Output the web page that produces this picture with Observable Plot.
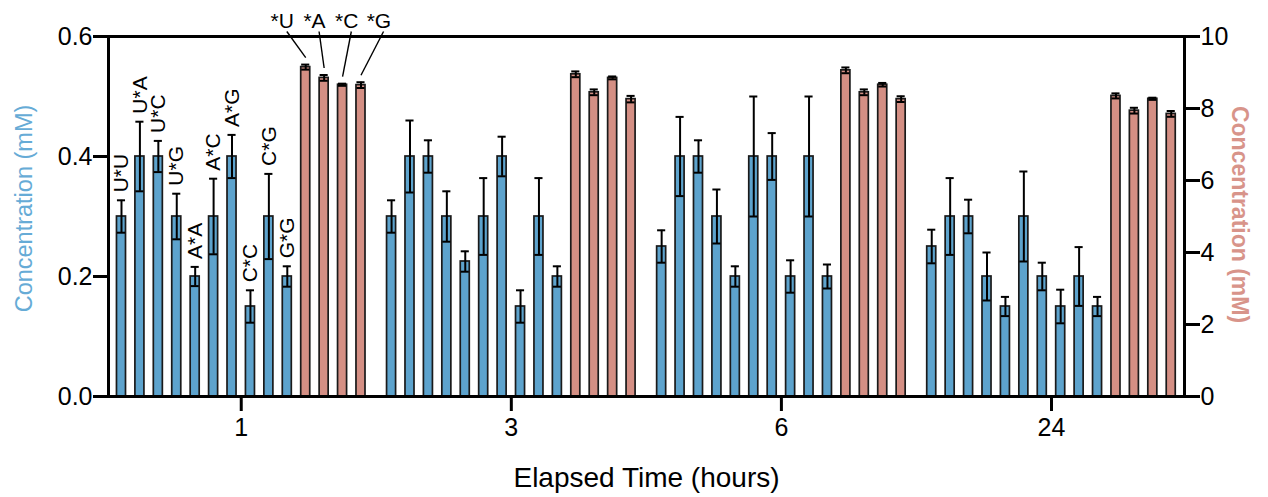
<!DOCTYPE html>
<html>
<head>
<meta charset="utf-8">
<script src="https://cdn.jsdelivr.net/npm/d3@7"></script>
<script src="https://cdn.jsdelivr.net/npm/@observablehq/plot@0.6"></script>
<style>
  body { margin: 0; background: #fff; }
  #chart svg { display: block; }
</style>
</head>
<body>
<div id="chart"></div>
<script>
// ---- data ----
const groups = ["1", "3", "6", "24"];
const blueLabels = ["U*U", "U*A", "U*C", "U*G", "A*A", "A*C", "A*G", "C*C", "C*G", "G*G"];
const redLabels = ["*U", "*A", "*C", "*G"];

// left axis (mM)
const blueMean = [
  [0.30, 0.40, 0.40, 0.30, 0.20, 0.30, 0.40, 0.15, 0.30, 0.20],
  [0.30, 0.40, 0.40, 0.30, 0.225, 0.30, 0.40, 0.15, 0.30, 0.20],
  [0.25, 0.40, 0.40, 0.30, 0.20, 0.40, 0.40, 0.20, 0.40, 0.20],
  [0.25, 0.30, 0.30, 0.20, 0.15, 0.30, 0.20, 0.15, 0.20, 0.15]
];
const blueErr = [
  [0.027, 0.058, 0.026, 0.038, 0.016, 0.063, 0.036, 0.027, 0.071, 0.017],
  [0.027, 0.060, 0.027, 0.042, 0.017, 0.064, 0.033, 0.027, 0.064, 0.017],
  [0.027, 0.066, 0.027, 0.045, 0.017, 0.100, 0.039, 0.027, 0.100, 0.020],
  [0.028, 0.064, 0.028, 0.040, 0.016, 0.075, 0.023, 0.028, 0.049, 0.016]
];
// right axis (mM)
const redMean = [
  [9.15, 8.85, 8.66, 8.65],
  [8.95, 8.45, 8.85, 8.26],
  [9.06, 8.45, 8.66, 8.26],
  [8.35, 7.94, 8.27, 7.85]
];
const redErr = [
  [0.07, 0.08, 0.03, 0.08],
  [0.08, 0.08, 0.04, 0.09],
  [0.08, 0.08, 0.05, 0.08],
  [0.07, 0.08, 0.03, 0.08]
];

const leftTicks = [0, 0.2, 0.4, 0.6];
const rightTicks = [0, 2, 4, 6, 8, 10];
const xTitle = "Elapsed Time (hours)";
const leftTitle = "Concentration (mM)";
const rightTitle = "Concentration (mM)";

// ---- layout constants ----
const RATIO = 0.6 / 10;      // right-axis units -> left-axis units
const GROUP_STEP = 14.66;    // in bar steps
const HALF = 0.245;          // half bar width (bar steps)
const CAP = 0.22;            // half cap width
const PX = 0.6 / 360;        // one pixel in y units
const BLUE = "#5da3cd";
const RED = "#d48f84";
const FONT = "'Liberation Sans', Arial, Helvetica, sans-serif";

const bars = [];
groups.forEach((g, gi) => {
  blueLabels.forEach((lab, i) => bars.push({
    group: g, label: lab, kind: "blue", pos: gi * GROUP_STEP + i,
    y: blueMean[gi][i], e: blueErr[gi][i]
  }));
  redLabels.forEach((lab, j) => bars.push({
    group: g, label: lab, kind: "red", pos: gi * GROUP_STEP + blueLabels.length + j,
    y: redMean[gi][j] * RATIO, e: redErr[gi][j] * RATIO
  }));
});

const firstBlue = bars.filter(d => d.group === groups[0] && d.kind === "blue");
const firstRed = bars.filter(d => d.group === groups[0] && d.kind === "red");
const redCenter = d3.mean(firstRed, d => d.pos) - 0.15;
const topLab = firstRed.map((b, k) => ({label: b.label, tx: redCenter + (k - 1.5) * 1.75, bar: b}));

const nPer = blueLabels.length + redLabels.length;
const groupCenters = groups.map((g, gi) => gi * GROUP_STEP + (nPer - 1) / 2);

const chart = Plot.plot({
  width: 1268,
  height: 497,
  marginLeft: 108,
  marginRight: 84,
  marginTop: 36,
  marginBottom: 101,
  style: {fontFamily: FONT, fontSize: "25px", color: "#000", background: "#fff"},
  x: {domain: [-0.705, 57.70]},
  y: {domain: [0, 0.6]},
  marks: [
    Plot.rect(bars.filter(d => d.kind === "blue"), {
      x1: d => d.pos - HALF, x2: d => d.pos + HALF, y1: 0, y2: "y",
      fill: BLUE, stroke: "#1a1a1a", strokeWidth: 1.7
    }),
    Plot.rect(bars.filter(d => d.kind === "red"), {
      x1: d => d.pos - HALF, x2: d => d.pos + HALF, y1: 0, y2: "y",
      fill: RED, stroke: "#1a1a1a", strokeWidth: 1.7
    }),
    Plot.ruleX(bars, {x: "pos", y1: d => d.y - d.e, y2: d => d.y + d.e, stroke: "#000", strokeWidth: 2}),
    Plot.ruleY(bars, {y: d => d.y + d.e, x1: d => d.pos - CAP, x2: d => d.pos + CAP, stroke: "#000", strokeWidth: 2}),
    Plot.ruleY(bars, {y: d => d.y - d.e, x1: d => d.pos - CAP, x2: d => d.pos + CAP, stroke: "#000", strokeWidth: 2}),
    Plot.text(firstBlue, {
      x: "pos", y: d => d.y + d.e, text: "label", rotate: -90,
      textAnchor: "start", lineAnchor: "middle", dy: -8, fontSize: 21, fill: "#000"
    }),
    Plot.text(topLab, {
      x: "tx", y: 0.6, text: "label", dy: -9, lineAnchor: "bottom", fontSize: 21, fill: "#000"
    }),
    Plot.link(topLab, {
      x1: d => d.tx + 0.25, y1: 0.6 + 5 * PX,
      x2: d => d.bar.pos, y2: d => d.bar.y + d.bar.e + 7 * PX,
      stroke: "#000", strokeWidth: 1.4
    }),
    Plot.frame({stroke: "#000", strokeWidth: 3}),
    Plot.axisY({
      anchor: "left", ticks: leftTicks, tickFormat: d3.format(".1f"),
      tickSize: 15, tickPadding: 1, strokeWidth: 3, fontSize: 25, label: null
    }),
    Plot.axisY({
      anchor: "right", ticks: rightTicks.map(v => v * RATIO),
      tickFormat: d => String(Math.round(d / RATIO)),
      tickSize: 15, tickPadding: 1, strokeWidth: 3, fontSize: 25, label: null
    }),
    Plot.axisX({
      ticks: groupCenters,
      tickFormat: d => groups[Math.round((d - (nPer - 1) / 2) / GROUP_STEP)],
      tickSize: 15, tickPadding: 7, strokeWidth: 3, fontSize: 25, label: null
    }),
    Plot.text([leftTitle], {
      text: d => d, frameAnchor: "left", dx: -84, dy: -8, rotate: -90,
      textAnchor: "middle", lineAnchor: "middle",
      fill: "#66abd6", fontSize: 23.5
    }),
    Plot.text([rightTitle], {
      text: d => d, frameAnchor: "right", dx: 54.5, dy: -2, rotate: 90,
      textAnchor: "middle", lineAnchor: "middle",
      fill: "#d8948a", fontSize: 23, fontWeight: "bold"
    }),
    Plot.text([xTitle], {
      text: d => d, frameAnchor: "bottom", dy: 90, lineAnchor: "bottom",
      textAnchor: "middle", fill: "#000", fontSize: 28
    })
  ]
});

document.getElementById("chart").appendChild(chart);
</script>
</body>
</html>
